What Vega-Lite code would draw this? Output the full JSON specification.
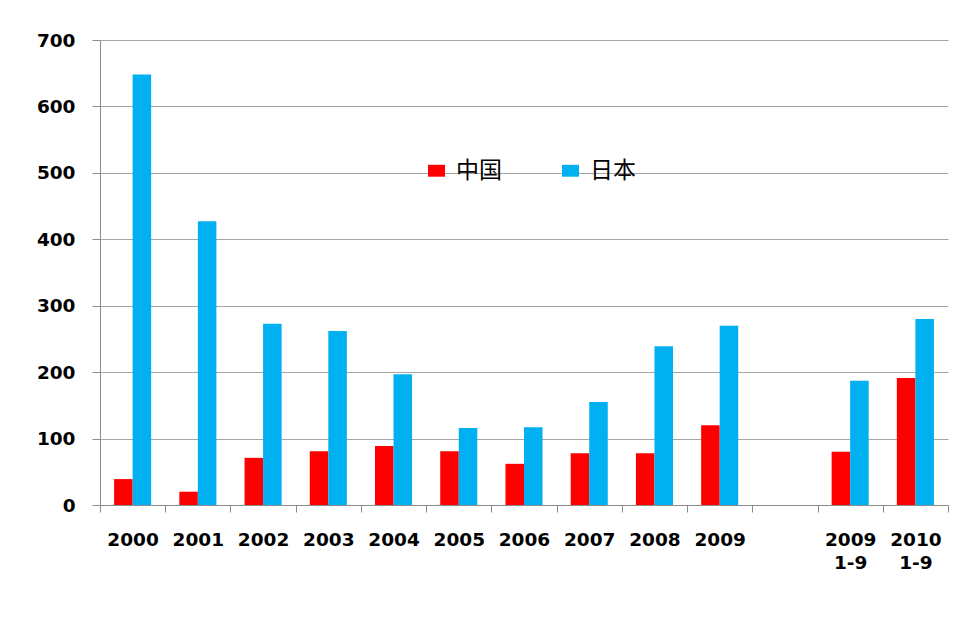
{
  "$schema": "https://vega.github.io/schema/vega-lite/v6.json",
  "width": 848,
  "height": 465,
  "autosize": "none",
  "padding": {"left": 100, "top": 40, "right": 8, "bottom": 122},
  "background": "white",
  "data": {
    "values": [
      {"cat": "2000", "series": "中国", "value": 39},
      {"cat": "2000", "series": "日本", "value": 648},
      {"cat": "2001", "series": "中国", "value": 20},
      {"cat": "2001", "series": "日本", "value": 427},
      {"cat": "2002", "series": "中国", "value": 71},
      {"cat": "2002", "series": "日本", "value": 273},
      {"cat": "2003", "series": "中国", "value": 81},
      {"cat": "2003", "series": "日本", "value": 262},
      {"cat": "2004", "series": "中国", "value": 89},
      {"cat": "2004", "series": "日本", "value": 197},
      {"cat": "2005", "series": "中国", "value": 81},
      {"cat": "2005", "series": "日本", "value": 116},
      {"cat": "2006", "series": "中国", "value": 62},
      {"cat": "2006", "series": "日本", "value": 117},
      {"cat": "2007", "series": "中国", "value": 78},
      {"cat": "2007", "series": "日本", "value": 155},
      {"cat": "2008", "series": "中国", "value": 78},
      {"cat": "2008", "series": "日本", "value": 239},
      {"cat": "2009", "series": "中国", "value": 120},
      {"cat": "2009", "series": "日本", "value": 270},
      {"cat": "2009 1-9", "series": "中国", "value": 80},
      {"cat": "2009 1-9", "series": "日本", "value": 187},
      {"cat": "2010 1-9", "series": "中国", "value": 191},
      {"cat": "2010 1-9", "series": "日本", "value": 280}
    ]
  },
  "mark": {"type": "bar"},
  "encoding": {
    "x": {
      "field": "cat",
      "type": "nominal",
      "scale": {
        "domain": ["2000", "2001", "2002", "2003", "2004", "2005", "2006", "2007", "2008", "2009", "gap", "2009 1-9", "2010 1-9"],
        "paddingInner": 0,
        "paddingOuter": 0
      },
      "axis": {
        "title": null,
        "labelAngle": 0,
        "tickBand": "extent",
        "labelExpr": "(datum.value == null || datum.value == 'gap') ? '' : split(datum.value, ' ')",
        "labelFont": "DejaVu Sans",
        "labelFontSize": 18.5,
        "labelFontWeight": "bold",
        "labelColor": "#000000",
        "labelPadding": 18,
        "labelLineHeight": 23,
        "labelBaseline": "top",
        "tickSize": 7,
        "tickColor": "#8c8c8c",
        "domainColor": "#8c8c8c",
        "grid": false
      }
    },
    "xOffset": {"field": "series", "type": "nominal", "sort": ["中国", "日本"], "scale": {"paddingInner": 0, "paddingOuter": 0.76}},
    "y": {
      "field": "value",
      "type": "quantitative",
      "scale": {"domain": [0, 700], "nice": false},
      "axis": {
        "title": null,
        "values": [0, 100, 200, 300, 400, 500, 600, 700],
        "labelFont": "DejaVu Sans",
        "labelFontSize": 18.5,
        "labelFontWeight": "bold",
        "labelColor": "#000000",
        "labelPadding": 17,
        "tickSize": 8,
        "tickColor": "#8c8c8c",
        "domainColor": "#8c8c8c",
        "grid": true,
        "gridColor": "#a6a6a6",
        "gridWidth": 1.2
      }
    },
    "color": {
      "field": "series",
      "type": "nominal",
      "sort": ["中国", "日本"],
      "scale": {"domain": ["中国", "日本"], "range": ["#FF0000", "#00B0F0"]},
      "legend": {
        "title": null,
        "orient": "none",
        "direction": "horizontal",
        "legendX": 325,
        "legendY": 119,
        "padding": 0,
        "columnPadding": 57,
        "labelOffset": 8,
        "labelFont": "Noto Sans CJK SC",
        "labelFontSize": 23,
        "labelColor": "#000000",
        "symbolType": "M-1,-0.7L1,-0.7L1,0.7L-1,0.7Z",
        "symbolSize": 289,
        "symbolStrokeWidth": 0
      }
    }
  },
  "config": {
    "view": {"stroke": null}
  }
}
